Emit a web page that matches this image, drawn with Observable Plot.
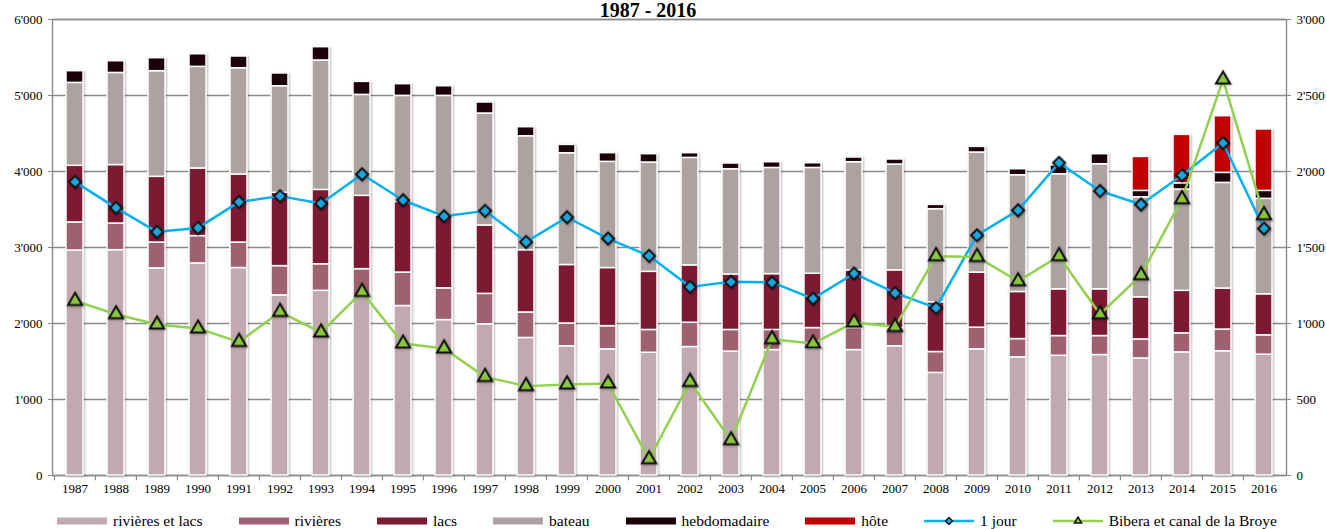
<!DOCTYPE html>
<html>
<head>
<meta charset="utf-8">
<script src="https://cdn.jsdelivr.net/npm/d3@7"></script>
<script src="https://cdn.jsdelivr.net/npm/@observablehq/plot@0.6"></script>
<style>
  html, body { margin: 0; padding: 0; background: #fff; overflow: hidden; }
  #wrap { position: relative; width: 1327px; height: 529px; font-family: "Liberation Serif", "Times New Roman", serif; color: #000; }
  #title { position: absolute; left: 548px; width: 200px; top: 0px; text-align: center; font-weight: bold; font-size: 20px; line-height: 20px; }
  #chart { position: absolute; left: 0; top: 0; }
  #chart svg text { font-family: "Liberation Serif", "Times New Roman", serif; }
  #legend { position: absolute; left: 57px; top: 511px; height: 20px; display: flex; align-items: center; gap: 36px; font-size: 15.5px; line-height: 20px; white-space: nowrap; }
  .item { display: flex; align-items: center; gap: 6px; }
  .item svg { display: block; }
  g[aria-label="bar"] { filter: drop-shadow(1px 1px 1.2px rgba(0,0,0,0.28)); }
  g[aria-label="dot"] { filter: drop-shadow(1px 1px 1px rgba(0,0,0,0.3)); }
</style>
</head>
<body>
<div id="wrap">
  <div id="chart"></div>
  <div id="title"></div>
  <div id="legend"></div>
</div>
<script>
const titleText = "1987 - 2016";
const years = [1987, 1988, 1989, 1990, 1991, 1992, 1993, 1994, 1995, 1996, 1997, 1998, 1999, 2000, 2001, 2002, 2003, 2004, 2005, 2006, 2007, 2008, 2009, 2010, 2011, 2012, 2013, 2014, 2015, 2016];
const yTicks = [0, 1000, 2000, 3000, 4000, 5000, 6000];

const seriesNames = ["rivières et lacs", "rivières", "lacs", "bateau", "hebdomadaire", "hôte"];
const seriesColors = ["#C1AAAF", "#9E6171", "#7C1A34", "#ADA1A1", "#1C0208", "#C00000"];

const rivieresLacs = [2960, 2965, 2725, 2790, 2730, 2370, 2430, 2350, 2230, 2045, 1990, 1810, 1700, 1660, 1615, 1690, 1630, 1650, 1670, 1650, 1700, 1350, 1660, 1555, 1575, 1585, 1540, 1620, 1635, 1590];
const rivieres     = [370, 350, 340, 360, 335, 385, 350, 365, 440, 418, 400, 335, 300, 305, 300, 320, 285, 265, 270, 290, 240, 275, 285, 240, 260, 250, 250, 250, 285, 255];
const lacs         = [745, 770, 865, 890, 895, 965, 978, 965, 930, 960, 900, 820, 770, 765, 765, 755, 730, 735, 715, 760, 760, 655, 725, 620, 615, 615, 555, 560, 540, 540];
const bateau       = [1091, 1212, 1390, 1337, 1399, 1402, 1703, 1328, 1395, 1572, 1473, 1499, 1470, 1397, 1438, 1414, 1385, 1397, 1392, 1422, 1392, 1224, 1580, 1536, 1514, 1646, 1315, 1333, 1390, 1255];
const hebdomadaire = [154, 154, 171, 166, 154, 168, 175, 171, 154, 127, 145, 119, 110, 114, 110, 62, 75, 75, 62, 62, 66, 57, 74, 79, 116, 132, 85, 82, 132, 105];
const hote         = [0, 0, 0, 0, 0, 0, 0, 0, 0, 0, 0, 0, 0, 0, 0, 0, 0, 0, 0, 0, 0, 0, 0, 0, 0, 0, 447, 637, 746, 808];

// right axis (0 - 3'000)
const unJourName = "1 jour";
const unJour = [1932, 1761, 1603, 1629, 1800, 1838, 1790, 1982, 1811, 1706, 1741, 1537, 1699, 1559, 1445, 1241, 1274, 1270, 1164, 1329, 1201, 1103, 1581, 1745, 2057, 1872, 1783, 1976, 2188, 1625];
const biberaName = "Bibera et canal de la Broye";
const bibera = [1149, 1061, 993, 967, 879, 1076, 941, 1208, 868, 836, 649, 588, 599, 605, 107, 616, 232, 897, 868, 1007, 978, 1443, 1438, 1278, 1443, 1061, 1318, 1818, 2605, 1713];

const seriesValues = [rivieresLacs, rivieres, lacs, bateau, hebdomadaire, hote];
const rows = [];
years.forEach((yr, i) => seriesNames.forEach((s, k) => rows.push({year: yr, series: s, value: seriesValues[k][i]})));
const lineRows = years.map((yr, i) => ({year: yr, jour: unJour[i], bibera: bibera[i]}));

const fmt = d3.formatLocale({decimal: ".", thousands: "'", grouping: [3], currency: ["", ""]}).format(",");
const rightRatio = 2; // left 6'000 <-> right 3'000

const W = 1327, H = 507, mL = 52, mR = 41, mT = 19, mB = 32;
const step = (W - mL - mR) / years.length;
const gray = "#8a8a8a";

const chart = Plot.plot({
  width: W, height: H,
  marginTop: mT, marginBottom: mB, marginLeft: mL, marginRight: mR,
  style: "font-family: 'Liberation Serif', 'Times New Roman', serif; font-size: 13px; color: #000; background: transparent;",
  x: {type: "band", domain: years, paddingInner: 0.58, paddingOuter: 0.29, label: null},
  y: {domain: [0, 6000], label: null},
  color: {domain: seriesNames, range: seriesColors},
  marks: [
    Plot.gridY(yTicks, {stroke: gray, strokeOpacity: 1, strokeWidth: 1.4}),
    Plot.frame({stroke: gray, strokeWidth: 1.4}),
    Plot.ruleX(years, {x: d => d, dx: -step / 2, y1: 0, y2: -70, stroke: gray, strokeWidth: 1.2}),
    Plot.barY(rows, {x: "year", y: "value", fill: "series", order: seriesNames, stroke: "white", strokeWidth: 1.5}),
    Plot.axisY(yTicks, {anchor: "left", tickFormat: fmt, tickSize: 4, tickPadding: 6, stroke: gray, fill: "#000", fontSize: 13, label: null}),
    Plot.axisY(yTicks, {anchor: "right", tickFormat: d => fmt(d / rightRatio), tickSize: 4, tickPadding: 6, stroke: gray, fill: "#000", fontSize: 13, label: null}),
    Plot.axisX({tickSize: 0, tickPadding: 8, tickFormat: d => String(d), fill: "#000", fontSize: 13, label: null}),
    Plot.line(lineRows, {x: "year", y: d => d.jour * rightRatio, stroke: "#00B0F0", strokeWidth: 2.5}),
    Plot.dot(lineRows, {x: "year", y: d => d.jour * rightRatio, symbol: "diamond2", r: 5.4, fill: "#1AA7E0", stroke: "#111", strokeWidth: 2}),
    Plot.line(lineRows, {x: "year", y: d => d.bibera * rightRatio, stroke: "#92D050", strokeWidth: 2.5}),
    Plot.dot(lineRows, {x: "year", y: d => d.bibera * rightRatio, symbol: "triangle", r: 5.2, fill: "#8CC63F", stroke: "#111", strokeWidth: 2})
  ]
});
document.getElementById("chart").appendChild(chart);
document.getElementById("title").textContent = titleText;

// legend
const legend = d3.select("#legend");
seriesNames.forEach((name, k) => {
  const it = legend.append("div").attr("class", "item");
  const s = it.append("svg").attr("width", 50).attr("height", 10);
  s.append("rect").attr("x", 0).attr("y", 1.5).attr("width", 50).attr("height", 7).attr("fill", seriesColors[k]);
  it.append("span").text(name);
});
[[unJourName, "#00B0F0", "#1AA7E0", d3.symbolDiamond2, 30], [biberaName, "#92D050", "#8CC63F", d3.symbolTriangle, 22]].forEach(([name, line, fill, sym, size]) => {
  const it = legend.append("div").attr("class", "item");
  const s = it.append("svg").attr("width", 50).attr("height", 12);
  s.append("line").attr("x1", 0).attr("x2", 50).attr("y1", 6).attr("y2", 6).attr("stroke", line).attr("stroke-width", 2.5);
  s.append("path").attr("d", d3.symbol(sym, size)()).attr("transform", "translate(25,6)").attr("fill", fill).attr("stroke", "#111").attr("stroke-width", 1.5);
  it.append("span").text(name);
});
</script>
</body>
</html>
